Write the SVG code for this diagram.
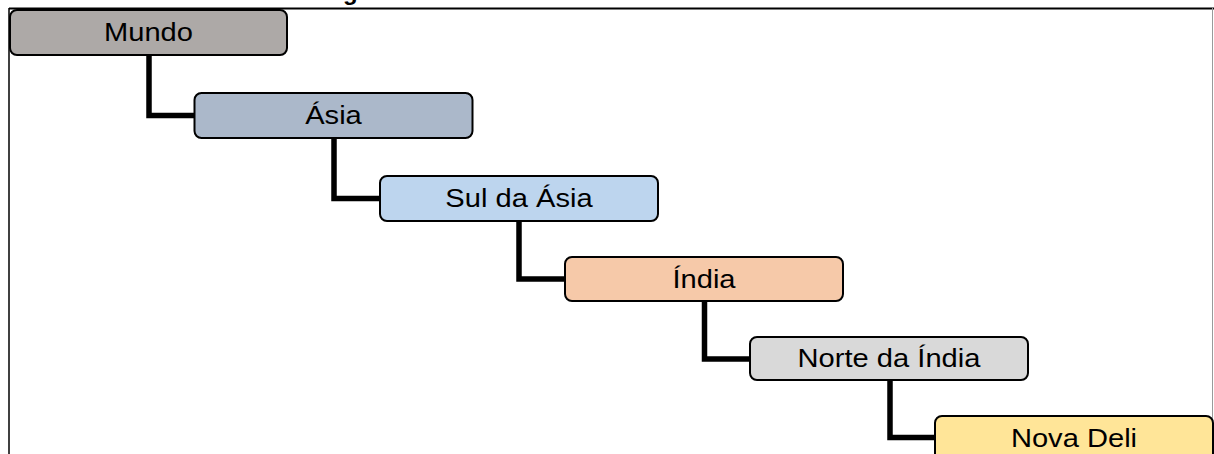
<svg xmlns="http://www.w3.org/2000/svg" width="1214" height="454" viewBox="0 0 1214 454">
  <style>
    .node rect { stroke: #000; stroke-width: 2; }
    .node text { font-family: "Liberation Sans", Arial, sans-serif; font-size: 26px; fill: #000; text-anchor: middle; }
    .link { fill: none; stroke: #000; stroke-width: 5.5; stroke-linejoin: miter; }
  </style>
  <rect width="1214" height="454" fill="#fff"/>

  <!-- title glyph peeking in at the top edge -->
  <text x="343" y="-0.5" font-family="Liberation Sans, Arial, sans-serif" font-size="24" font-weight="bold">g</text>

  <!-- outer frame -->
  <line x1="9" y1="8.5" x2="1214" y2="8.5" stroke="#000" stroke-width="2"/>
  <line x1="9" y1="8" x2="9" y2="454" stroke="#000" stroke-width="1.5"/>
  <line x1="1212.5" y1="8" x2="1212.5" y2="454" stroke="#9a9a9a" stroke-width="1"/>

  <!-- connectors -->
  <g id="connectors">
    <path class="link" d="M149 55 V115.5 H194"/>
    <path class="link" d="M334 138 V198.5 H380"/>
    <path class="link" d="M519 221 V279 H565"/>
    <path class="link" d="M704.5 301 V359 H750"/>
    <path class="link" d="M890 380 V437.5 H935"/>
  </g>

  <!-- labels are drawn slightly wide: scale(1.12,1) about each label origin -->
  <g id="mundo" class="node">
    <rect x="10" y="10" width="277" height="45" rx="7" fill="#ADA9A7"/>
    <text transform="translate(148.5 41) scale(1.12 1)">Mundo</text>
  </g>
  <g id="asia" class="node">
    <rect x="194.5" y="93" width="278" height="45" rx="7" fill="#ABB8CA"/>
    <text transform="translate(333.5 124) scale(1.12 1)">Ásia</text>
  </g>
  <g id="sul-da-asia" class="node">
    <rect x="380" y="176" width="278" height="45" rx="7" fill="#BDD5EE"/>
    <text transform="translate(519 207) scale(1.12 1)">Sul da Ásia</text>
  </g>
  <g id="india" class="node">
    <rect x="565" y="257" width="278" height="44" rx="7" fill="#F6C9A9"/>
    <text transform="translate(704 288) scale(1.12 1)">Índia</text>
  </g>
  <g id="norte-da-india" class="node">
    <rect x="750" y="337" width="278" height="43" rx="7" fill="#D9D9D9"/>
    <text transform="translate(889 367) scale(1.12 1)">Norte da Índia</text>
  </g>
  <g id="nova-deli" class="node">
    <rect x="935" y="416" width="278" height="45" rx="7" fill="#FFE598"/>
    <text transform="translate(1074 447) scale(1.12 1)">Nova Deli</text>
  </g>
</svg>
